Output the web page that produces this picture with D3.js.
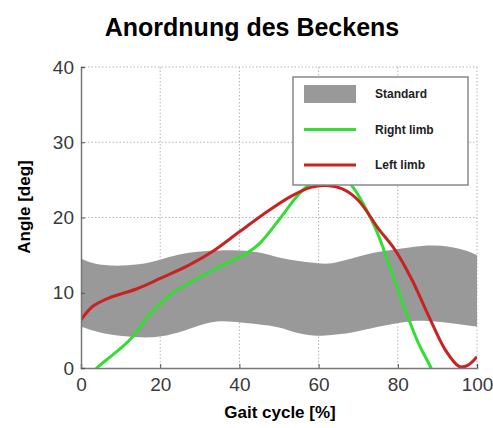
<!DOCTYPE html>
<html>
<head>
<meta charset="utf-8">
<script src="https://cdn.jsdelivr.net/npm/d3@7"></script>
<style>
  body { margin: 0; background: #fff; }
  svg { font-family: "Liberation Sans", Arial, sans-serif; }
</style>
</head>
<body>
<div id="chart"></div>
<script>
// standard band (gray), gait cycle % vs angle
const bandX     = [0, 2, 7, 15, 20, 26, 33, 38, 45, 50, 55, 60, 63, 68, 75, 84, 89, 96, 100]
const bandUpper = [14.6, 14.0, 13.5, 13.7, 14.4, 15.3, 15.6, 15.7, 15.5, 14.6, 14.2, 13.9, 13.8, 14.5, 15.5, 16.1, 16.4, 15.9, 15.0]
const bandLower = [5.5, 5.1, 4.4, 4.0, 4.1, 4.9, 6.3, 6.2, 5.8, 5.5, 4.5, 4.2, 4.4, 4.6, 5.5, 6.4, 6.2, 5.8, 5.5]

const rightX = [3, 4, 8.6, 12.8, 17, 20.2, 23.8, 29, 36, 42, 45.2, 50.3, 54.5, 58, 61, 64, 66, 68, 70, 74.5, 77.7, 81.9, 85.2, 88.2, 90]
const rightY = [-0.7, 0, 2.0, 4.0, 6.9, 8.6, 10.2, 11.8, 13.7, 15.3, 16.6, 19.9, 22.8, 24.6, 25.8, 26.2, 25.8, 24.5, 23.0, 18.4, 13.9, 7.7, 3.3, 0.2, -2]

const leftX = [0, 3, 7, 14, 20, 27, 33, 40, 46, 53, 58, 62, 66, 70, 75, 79.3, 83.6, 87.8, 92, 95.5, 97.5, 100]
const leftY = [6.4, 8.2, 9.3, 10.5, 11.9, 13.6, 15.4, 18.1, 20.4, 22.8, 24.0, 24.25, 23.8, 22.3, 18.6, 15.7, 11.7, 6.9, 2.4, 0.2, 0.3, 1.5]

const xTicks = [0, 20, 40, 60, 80, 100]
const yTicks = [0, 10, 20, 30, 40]

const legendItems = [
  {label: 'Standard', type: 'band', color: '#999999'},
  {label: 'Right limb', type: 'line', color: '#33dd33'},
  {label: 'Left limb', type: 'line', color: '#c92222'}
]

let width = 493, height = 428
let margin = {top: 67, right: 16, bottom: 60, left: 81}
let w = width - margin.left - margin.right
let h = height - margin.top - margin.bottom

const svg = d3.select('#chart').append('svg')
  .attr('width', width)
  .attr('height', height)

const g = svg.append('g')
  .attr('transform', 'translate(' + margin.left + ',' + margin.top + ')')

const xScale = d3.scaleLinear().domain([0, 100]).range([0, w])
const yScale = d3.scaleLinear().domain([0, 40]).range([h, 0])

// clip for curves
svg.append('defs').append('clipPath').attr('id', 'plotclip')
  .append('rect').attr('x', 0).attr('y', 0).attr('width', w).attr('height', h)

// dotted grid
g.append('g').selectAll('line.gx')
  .data(xTicks.slice(1))
  .enter().append('line')
  .attr('x1', d => xScale(d)).attr('x2', d => xScale(d))
  .attr('y1', 0).attr('y2', h)
  .attr('stroke', '#b5b5b5').attr('stroke-width', 1)
  .attr('stroke-dasharray', '1.5,2')
g.append('g').selectAll('line.gy')
  .data(yTicks.slice(1))
  .enter().append('line')
  .attr('x1', 0).attr('x2', w)
  .attr('y1', d => yScale(d)).attr('y2', d => yScale(d))
  .attr('stroke', '#b5b5b5').attr('stroke-width', 1)
  .attr('stroke-dasharray', '1.5,2')

const plot = g.append('g').attr('clip-path', 'url(#plotclip)')

// gray band
const bandData = bandX.map((x, i) => ({x: x, lo: bandLower[i], hi: bandUpper[i]}))
plot.append('path')
  .datum(bandData)
  .attr('fill', '#999999')
  .attr('d', d3.area()
    .x(d => xScale(d.x))
    .y0(d => yScale(d.lo))
    .y1(d => yScale(d.hi))
    .curve(d3.curveBasis))

const line = d3.line()
  .x(d => xScale(d[0]))
  .y(d => yScale(d[1]))
  .curve(d3.curveCatmullRom)

plot.append('path')
  .datum(rightX.map((x, i) => [x, rightY[i]]))
  .attr('fill', 'none')
  .attr('stroke', '#33dd33')
  .attr('stroke-width', 3)
  .attr('d', line)

plot.append('path')
  .datum(leftX.map((x, i) => [x, leftY[i]]))
  .attr('fill', 'none')
  .attr('stroke', '#c92222')
  .attr('stroke-width', 3)
  .attr('d', line)

// axes (left + bottom solid, ticks inward)
const xAxis = g.append('g')
  .attr('transform', 'translate(0,' + h + ')')
  .call(d3.axisBottom(xScale).tickValues(xTicks).tickSize(-4).tickPadding(9))
const yAxis = g.append('g')
  .call(d3.axisLeft(yScale).tickValues(yTicks).tickSize(-4).tickPadding(7))

;[xAxis, yAxis].forEach(a => {
  a.select('.domain').attr('stroke', '#777').attr('stroke-width', 1.5)
  a.selectAll('.tick line').attr('stroke', '#555')
  a.selectAll('.tick text')
    .attr('fill', '#3a3a3a')
    .style('font-size', '19px')
    .style('font-family', '"Liberation Sans", Arial, sans-serif')
})
xAxis.selectAll('.tick text').attr('dy', '0.75em')

// legend
const lg = g.append('g')
  .attr('transform', 'translate(' + (293 - margin.left) + ',' + (77 - margin.top) + ')')
lg.append('rect')
  .attr('width', 175).attr('height', 108)
  .attr('fill', '#fff')
  .attr('stroke', '#888').attr('stroke-width', 1.5)

legendItems.forEach((item, i) => {
  let cy = 17 + i * 35.5
  if (item.type == 'band') {
    lg.append('rect')
      .attr('x', 11).attr('y', cy - 9)
      .attr('width', 52).attr('height', 18)
      .attr('fill', item.color)
  } else {
    lg.append('line')
      .attr('x1', 11).attr('x2', 63)
      .attr('y1', cy).attr('y2', cy)
      .attr('stroke', item.color).attr('stroke-width', 3)
  }
  lg.append('text')
    .attr('x', 82).attr('y', cy)
    .attr('dy', '0.35em')
    .style('font-size', '12px')
    .style('font-weight', 'bold')
    .attr('fill', '#222')
    .text(item.label)
})

// title and axis labels
svg.append('text')
  .attr('x', 252).attr('y', 36)
  .attr('text-anchor', 'middle')
  .style('font-size', '25px')
  .style('font-weight', 'bold')
  .text('Anordnung des Beckens')

svg.append('text')
  .attr('transform', 'rotate(-90)')
  .attr('x', -207).attr('y', 30)
  .attr('text-anchor', 'middle')
  .style('font-size', '17px')
  .style('font-weight', 'bold')
  .text('Angle [deg]')

svg.append('text')
  .attr('x', 280).attr('y', 418)
  .attr('text-anchor', 'middle')
  .style('font-size', '17px')
  .style('font-weight', 'bold')
  .text('Gait cycle [%]')
</script>
</body>
</html>
